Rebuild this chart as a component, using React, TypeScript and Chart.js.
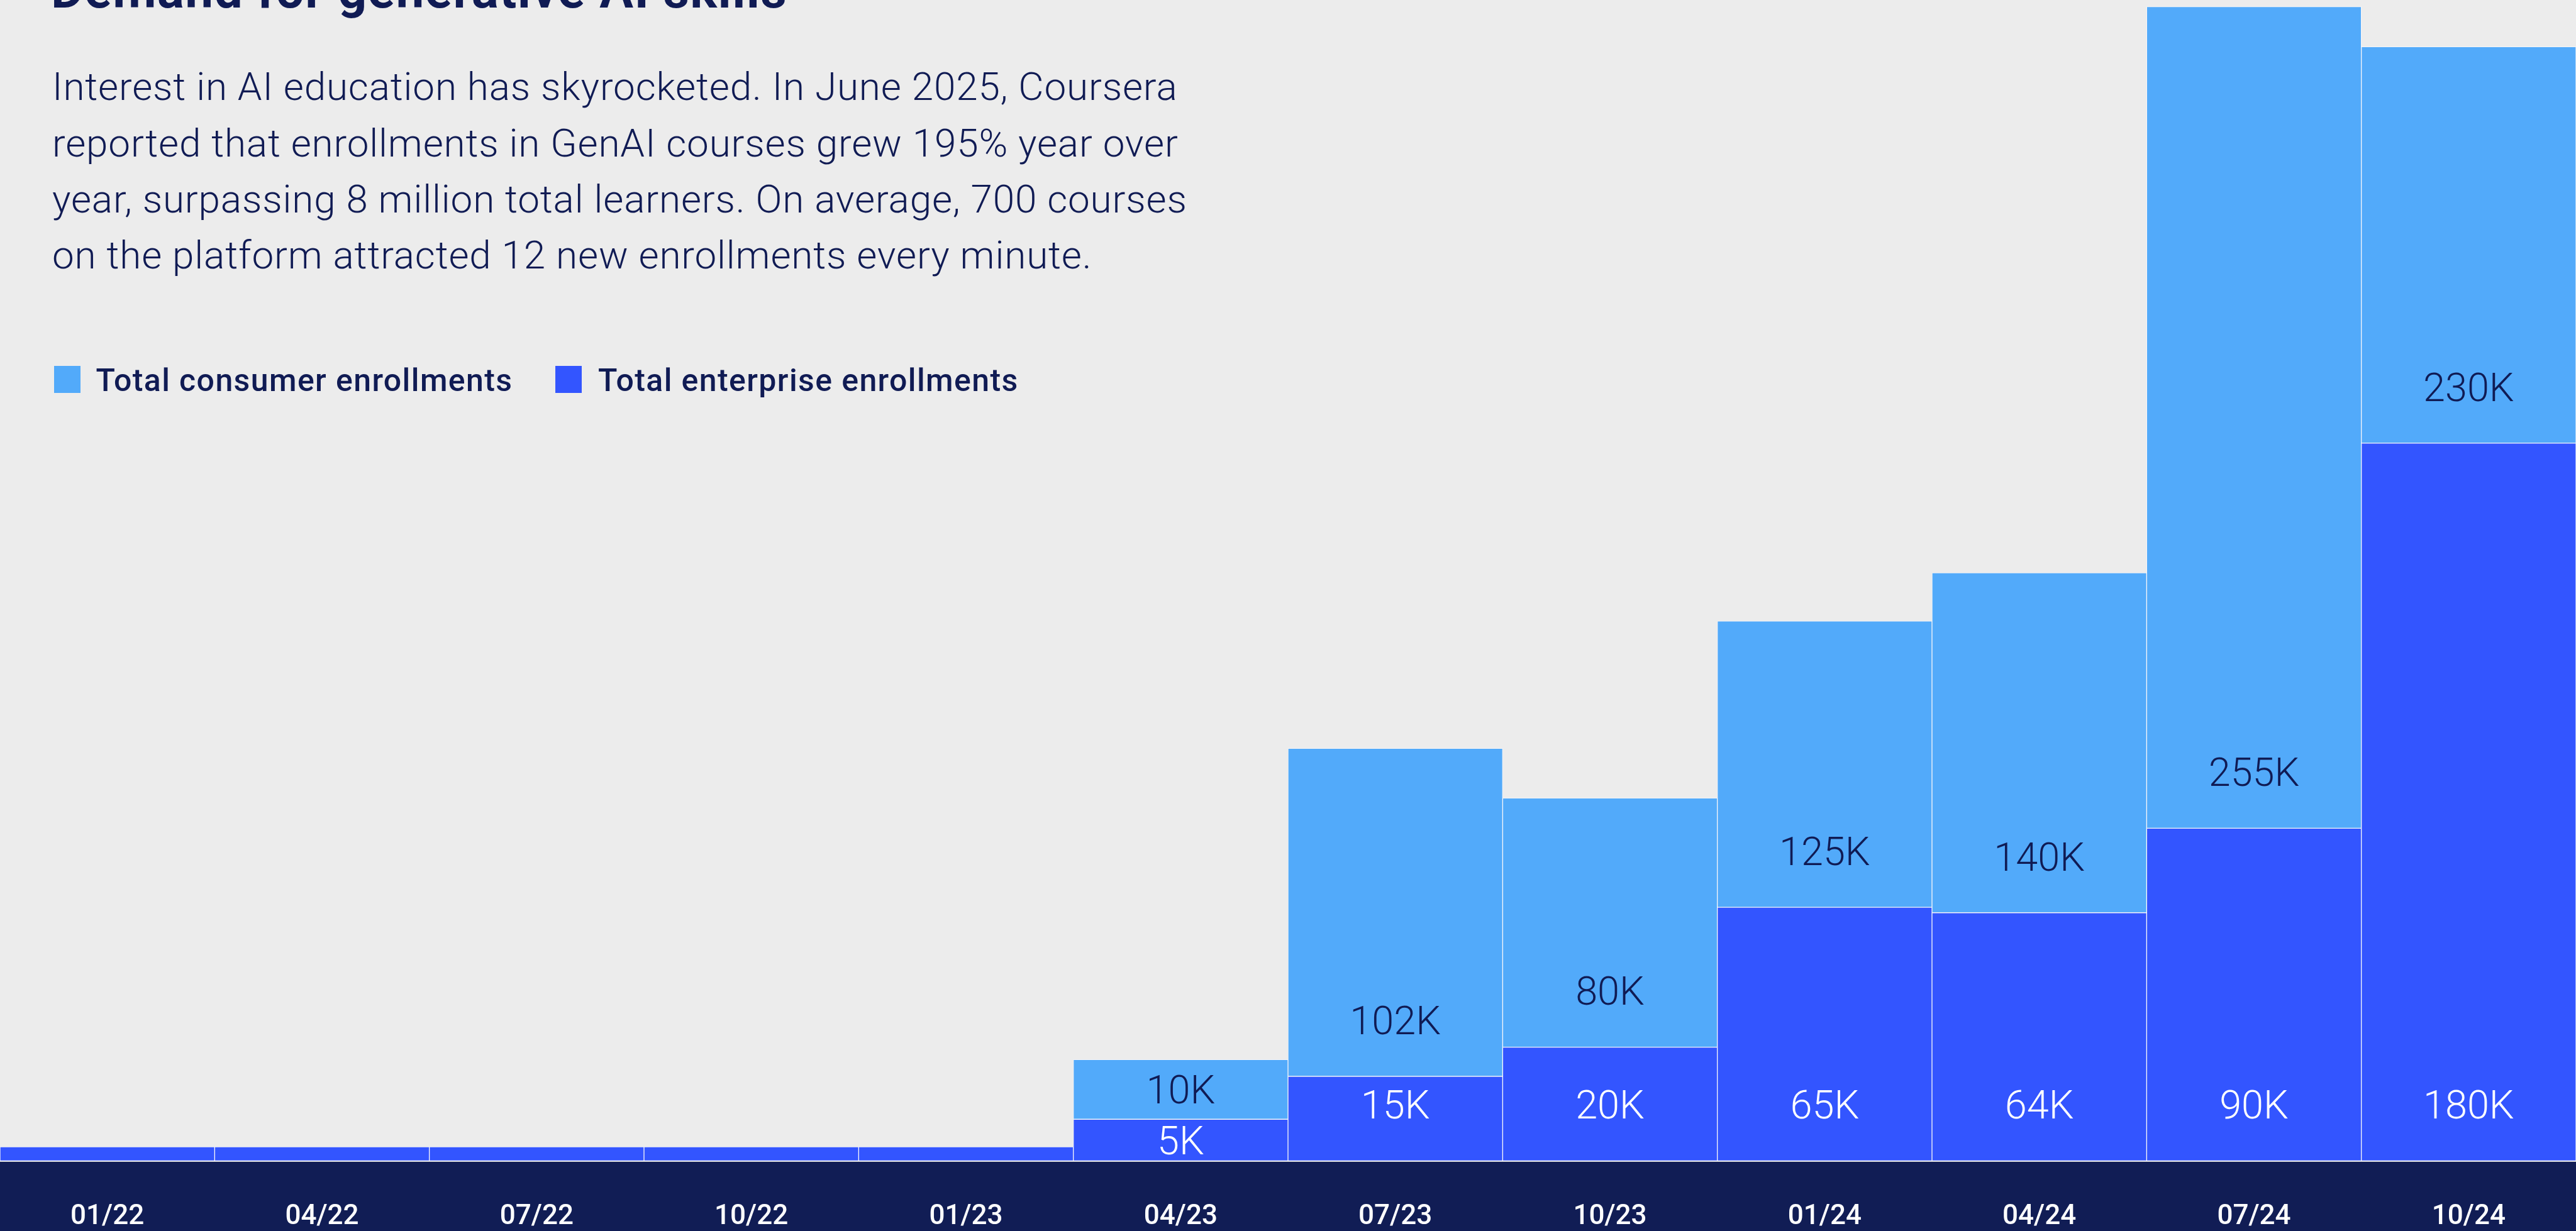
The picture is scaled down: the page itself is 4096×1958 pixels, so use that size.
import React, { useEffect, useRef } from 'react';
import { Chart, registerables } from 'chart.js';

Chart.register(...registerables);

// ---- data ----
const quarters = ['01/22', '04/22', '07/22', '10/22', '01/23', '04/23', '07/23', '10/23', '01/24', '04/24', '07/24', '10/24'];
// bar segment heights as drawn in the graphic (the graphic is not to a linear scale)
const enterpriseHeights = [28, 28, 28, 28, 28, 82.7, 168, 226, 504, 493.3, 661.3, 1427];
const consumerHeights = [null, null, null, null, null, 118.6, 652, 495.4, 569.3, 676, 1633.4, 788];
// value labels printed on the segments
const enterpriseLabels = ['', '', '', '', '', '5K', '15K', '20K', '65K', '64K', '90K', '180K'];
const consumerLabels = ['', '', '', '', '', '10K', '102K', '80K', '125K', '140K', '255K', '230K'];
const seriesNames = ['Total consumer enrollments', 'Total enterprise enrollments'];
const yMax = 2308;

const titleText = 'Demand for generative AI skills';
const bodyLines = [
  'Interest in AI education has skyrocketed. In June 2025, Coursera',
  'reported that enrollments in GenAI courses grew 195% year over',
  'year, surpassing 8 million total learners. On average, 700 courses',
  'on the platform attracted 12 new enrollments every minute.',
];

// ---- style ----
const W = 4096;
const H = 1958;
const BG = '#ECECEC';
const NAVY = '#111D55';
const TEXT = '#101B54';
const CONSUMER = '#52AAFA';
const ENTERPRISE = '#3355FF';
const SEG_BORDER = 'rgba(246,246,250,0.9)';
const FONT = 'Roboto, "Liberation Sans", sans-serif';
const LABEL_FS = 63;
const AXIS_H = 111.6;

const bandPlugin = {
  id: 'band',
  beforeDraw(chart: any) {
    const { ctx, chartArea, width, height } = chart;
    ctx.save();
    ctx.fillStyle = BG;
    ctx.fillRect(0, 0, width, height);
    ctx.fillStyle = NAVY;
    ctx.fillRect(0, chartArea.bottom + 1.5, width, height - chartArea.bottom);
    ctx.restore();
  },
};

const segLabelPlugin = {
  id: 'segLabels',
  afterDatasetsDraw(chart: any) {
    const ctx = chart.ctx;
    const capH = LABEL_FS * 0.711;
    chart.data.datasets.forEach((ds: any, di: number) => {
      const meta = chart.getDatasetMeta(di);
      const labels: string[] = ds.segLabels;
      meta.data.forEach((el: any, i: number) => {
        const txt = labels[i];
        if (!txt) return;
        const { x, y, base } = el.getProps(['x', 'y', 'base'], true);
        const top = Math.min(y, base);
        const bottom = Math.max(y, base);
        const anchored = bottom - 89.6;
        const mid = anchored - capH / 2 - 6 >= top ? anchored : (top + bottom) / 2;
        ctx.save();
        ctx.font = `300 ${LABEL_FS}px ${FONT}`;
        ctx.fillStyle = ds.labelColor;
        ctx.textAlign = 'center';
        ctx.textBaseline = 'alphabetic';
        ctx.fillText(txt, x, mid + capH / 2);
        ctx.restore();
      });
    });
  },
};

export default function App() {
  const ref = useRef<HTMLCanvasElement | null>(null);

  useEffect(() => {
    if (!ref.current) return;
    const chart = new Chart(ref.current, {
      type: 'bar',
      data: {
        labels: quarters,
        datasets: [
          {
            label: seriesNames[1],
            data: enterpriseHeights,
            backgroundColor: ENTERPRISE,
            borderColor: SEG_BORDER,
            borderWidth: 1,
            borderSkipped: false,
            barPercentage: 1,
            categoryPercentage: 1,
            segLabels: enterpriseLabels,
            labelColor: '#FFFFFF',
          } as any,
          {
            label: seriesNames[0],
            data: consumerHeights,
            backgroundColor: CONSUMER,
            borderColor: SEG_BORDER,
            borderWidth: 1,
            borderSkipped: false,
            barPercentage: 1,
            categoryPercentage: 1,
            segLabels: consumerLabels,
            labelColor: TEXT,
          } as any,
        ],
      },
      options: {
        animation: false,
        responsive: false,
        maintainAspectRatio: false,
        devicePixelRatio: 1,
        layout: { padding: 0 },
        plugins: {
          legend: { display: false },
          tooltip: { enabled: false },
          title: { display: false },
        },
        scales: {
          x: {
            stacked: true,
            grid: { display: false },
            border: { display: false },
            ticks: {
              color: '#FFFFFF',
              padding: 55.5,
              font: { family: FONT, size: 44, weight: '500' as any },
              maxRotation: 0,
              autoSkip: false,
            },
            afterFit: (scale: any) => {
              scale.height = AXIS_H;
            },
          },
          y: {
            stacked: true,
            display: false,
            min: 0,
            max: yMax,
          },
        },
      },
      plugins: [bandPlugin, segLabelPlugin],
    });
    return () => chart.destroy();
  }, []);

  const legendItems = [
    { name: seriesNames[0], color: CONSUMER, sq: 85.6, tx: 152.5 },
    { name: seriesNames[1], color: ENTERPRISE, sq: 883.4, tx: 951 },
  ];

  return (
    <div
      style={{
        position: 'fixed',
        left: 0,
        top: 0,
        width: W,
        height: H,
        background: BG,
        overflow: 'hidden',
        fontFamily: FONT,
      }}
    >
      <canvas ref={ref} width={W} height={H} style={{ position: 'absolute', left: 0, top: 0, width: W, height: H }} />
      <div
        style={{
          position: 'absolute',
          left: 81,
          top: -55.2,
          fontSize: 80,
          lineHeight: '80px',
          fontWeight: 700,
          letterSpacing: '1.5px',
          color: TEXT,
          whiteSpace: 'nowrap',
        }}
      >
        {titleText}
      </div>
      <div
        style={{
          position: 'absolute',
          left: 83,
          top: 93.4,
          color: TEXT,
          fontSize: 62,
          fontWeight: 300,
          letterSpacing: '0.85px',
        }}
      >
        {bodyLines.map((l, i) => (
          <div key={i} style={{ height: 89.3, lineHeight: '89.3px', whiteSpace: 'nowrap' }}>
            {l}
          </div>
        ))}
      </div>
      {legendItems.map((it, i) => (
        <React.Fragment key={i}>
          <div style={{ position: 'absolute', left: it.sq, top: 581.6, width: 42, height: 43, background: it.color }} />
          <div
            style={{
              position: 'absolute',
              left: it.tx,
              top: 579.7,
              fontSize: 50,
              lineHeight: '50px',
              fontWeight: 500,
              letterSpacing: '1.4px',
              color: TEXT,
              whiteSpace: 'nowrap',
            }}
          >
            {it.name}
          </div>
        </React.Fragment>
      ))}
    </div>
  );
}
